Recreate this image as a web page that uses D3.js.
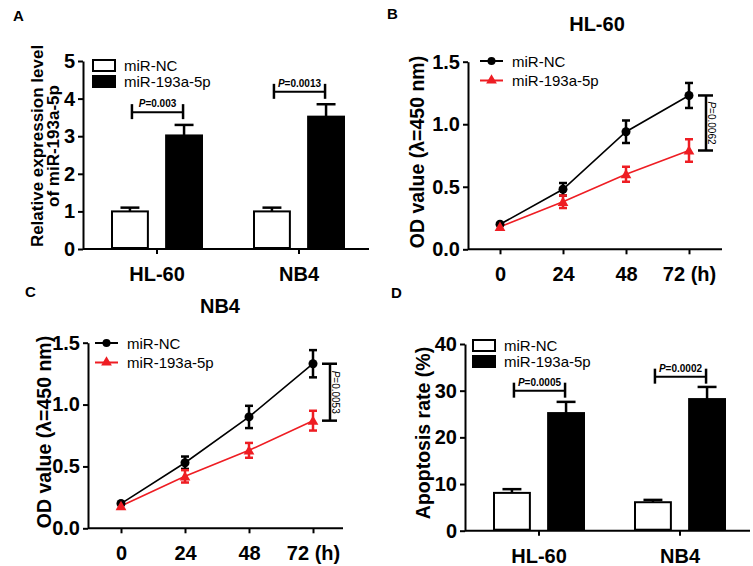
<!DOCTYPE html>
<html><head><meta charset="utf-8">
<script src="https://cdn.jsdelivr.net/npm/d3@7"></script>
<style>body{margin:0;background:#fff}svg{display:block;font-family:Arial,"Liberation Sans",sans-serif}</style>
</head><body><svg id="c" width="753" height="566"></svg>
<script>
// ---------- data ----------
const groups = ["miR-NC", "miR-193a-5p"];
const cellLines = ["HL-60", "NB4"];
// Panel A: relative expression
const exprNC = [1.0, 1.0], exprNCErr = [0.1, 0.1];
const exprMiR = [3.02, 3.52], exprMiRErr = [0.28, 0.33];
const exprP = ["0.003", "0.0013"], exprPLevel = [3.64, 4.18];
// Panel B/C: OD values
const hours = [0, 24, 48, 72];
const hourLabels = ["0", "24", "48", "72 (h)"];
const hlNC = [0.20, 0.48, 0.94, 1.23], hlNCErr = [0.01, 0.05, 0.09, 0.10];
const hlMiR = [0.18, 0.38, 0.60, 0.79], hlMiRErr = [0.01, 0.05, 0.06, 0.09];
const nbNC = [0.20, 0.53, 0.90, 1.33], nbNCErr = [0.01, 0.05, 0.09, 0.11];
const nbMiR = [0.18, 0.42, 0.63, 0.87], nbMiRErr = [0.01, 0.05, 0.06, 0.08];
const odP = ["0.0062", "0.0053"];
// Panel D: apoptosis
const apoNC = [8.1, 6.1], apoNCErr = [0.8, 0.5];
const apoMiR = [25.2, 28.2], apoMiRErr = [2.4, 2.6];
const apoP = ["0.0005", "0.0002"], apoPLevel = [30.0, 33.0];
const odTicks = [0, 0.5, 1.0, 1.5];
const exprTicks = [0, 1, 2, 3, 4, 5];
const apoTicks = [0, 10, 20, 30, 40];

const RED = "#ee1d23";
const svg = d3.select("#c");

function panelLabel(t, x, y) {
  svg.append("text").attr("x", x).attr("y", y).attr("font-size", 15).attr("font-weight", "bold").text(t);
}
function styleAxis(g, fs) {
  g.selectAll("path.domain").attr("stroke", "#000").attr("stroke-width", 2);
  g.selectAll(".tick line").attr("stroke", "#000").attr("stroke-width", 2);
  g.selectAll(".tick text").attr("font-size", fs).attr("font-weight", "bold").attr("fill", "#000")
    .attr("font-family", "Arial, 'Liberation Sans', sans-serif");
}
function pText(sel, p) {
  sel.append("tspan").attr("font-style", "italic").text("P");
  sel.append("tspan").text("=" + p);
}

// ---------- bar panel ----------
function barPanel(o) {
  const x0 = d3.scaleBand().domain(cellLines).range(o.xr).padding(0);
  const x1 = d3.scaleBand().domain(groups).range([-46, 46]).paddingInner(0.3);
  const y = d3.scaleLinear().domain(o.ydom).range(o.yr);
  const g = svg.append("g");
  const ya = g.append("g").attr("transform", `translate(${o.axisX},0)`)
    .call(d3.axisLeft(y).tickValues(o.ticks).tickFormat(d3.format("d")).tickSize(5).tickSizeOuter(0).tickPadding(3));
  styleAxis(ya, o.tickFs);
  const xa = g.append("g").attr("transform", `translate(0,${y(0)})`)
    .call(d3.axisBottom(x0).tickSize(5).tickSizeOuter(0).tickPadding(13));
  xa.select("path.domain").remove();
  styleAxis(xa, 20);
  g.append("line").attr("x1", o.axisX).attr("x2", o.xEnd).attr("y1", y(0)).attr("y2", y(0))
    .attr("stroke", "#000").attr("stroke-width", 2);
  const rows = [];
  cellLines.forEach((c, i) => {
    rows.push({c, grp: groups[0], v: o.nc[i], e: o.ncErr[i]});
    rows.push({c, grp: groups[1], v: o.mi[i], e: o.miErr[i]});
  });
  const cx = d => x0(d.c) + x0.bandwidth() / 2 + x1(d.grp) + x1.bandwidth() / 2;
  rows.forEach(d => {
    const half = x1.bandwidth() * 0.25;
    g.append("line").attr("x1", cx(d)).attr("x2", cx(d)).attr("y1", y(d.v)).attr("y2", y(d.v + d.e))
      .attr("stroke", "#000").attr("stroke-width", 2.5);
    g.append("line").attr("x1", cx(d) - half).attr("x2", cx(d) + half).attr("y1", y(d.v + d.e)).attr("y2", y(d.v + d.e))
      .attr("stroke", "#000").attr("stroke-width", 2.5);
  });
  g.selectAll("rect.bar").data(rows).join("rect").attr("class", "bar")
    .attr("x", d => cx(d) - x1.bandwidth() / 2 + 1).attr("width", x1.bandwidth() - 2)
    .attr("y", d => y(d.v)).attr("height", d => y(0) - y(d.v) - 1)
    .attr("fill", d => d.grp === groups[0] ? "#fff" : "#000")
    .attr("stroke", "#000").attr("stroke-width", 2);
  cellLines.forEach((c, i) => {
    const xl = cx({c, grp: groups[0]}) + 2, xr = cx({c, grp: groups[1]}) - 1;
    const L = y(o.pLevel[i]);
    g.append("line").attr("x1", xl).attr("x2", xr).attr("y1", L).attr("y2", L).attr("stroke", "#000").attr("stroke-width", 2);
    [xl, xr].forEach(xx => g.append("line").attr("x1", xx).attr("x2", xx).attr("y1", L - 8).attr("y2", L + 7)
      .attr("stroke", "#000").attr("stroke-width", 2.5));
    const t = g.append("text").attr("x", (xl + xr) / 2).attr("y", L - 5).attr("text-anchor", "middle")
      .attr("font-size", 10).attr("font-weight", "bold");
    pText(t, o.p[i]);
  });
  groups.forEach((gr, i) => {
    const ly = o.legY + i * 16;
    g.append("rect").attr("x", o.legX).attr("y", ly).attr("width", 22).attr("height", 11)
      .attr("fill", i === 0 ? "#fff" : "#000").attr("stroke", "#000").attr("stroke-width", 2);
    g.append("text").attr("x", o.legX + 31).attr("y", ly + 11).attr("font-size", 15).text(gr);
  });
  o.ylabel.forEach((line, k) => {
    g.append("text").attr("transform", `translate(${o.ylX + k * o.ylGap},${o.ylY}) rotate(-90)`)
      .attr("text-anchor", "middle").attr("dominant-baseline", "central")
      .attr("font-weight", "bold").attr("font-size", o.ylFs).text(line);
  });
}

// ---------- line panel ----------
function linePanel(o) {
  const x = d3.scaleLinear().domain([0, 72]).range(o.xr);
  const y = d3.scaleLinear().domain([0, 1.5]).range(o.yr);
  const g = svg.append("g");
  const ya = g.append("g").attr("transform", `translate(${o.axisX},0)`)
    .call(d3.axisLeft(y).tickValues(odTicks).tickFormat(d3.format(".1f")).tickSize(5).tickSizeOuter(0).tickPadding(3));
  styleAxis(ya, 20);
  const xa = g.append("g").attr("transform", `translate(0,${y(0)})`)
    .call(d3.axisBottom(x).tickValues(hours).tickFormat((d, i) => hourLabels[i]).tickSize(5).tickSizeOuter(0).tickPadding(13));
  xa.select("path.domain").remove();
  styleAxis(xa, 20);
  g.append("line").attr("x1", o.axisX).attr("x2", o.xEnd).attr("y1", y(0)).attr("y2", y(0))
    .attr("stroke", "#000").attr("stroke-width", 2);
  g.append("text").attr("x", o.titleX).attr("y", o.titleY).attr("text-anchor", "middle")
    .attr("font-size", 20).attr("font-weight", "bold").text(o.title);
  const series = [
    {vals: o.nc, err: o.ncErr, color: "#000", shape: "circle"},
    {vals: o.mi, err: o.miErr, color: RED, shape: "triangle"}
  ];
  const line = d3.line().x((d, i) => x(hours[i])).y(d => y(d));
  const tri = d3.symbol().type(d3.symbolTriangle).size(50);
  series.slice().reverse().forEach(s => {
    g.append("path").attr("d", line(s.vals)).attr("fill", "none").attr("stroke", s.color).attr("stroke-width", 1.6);
  });
  series.forEach(s => {
    s.vals.forEach((v, i) => {
      const xx = x(hours[i]);
      if (s.err[i] > 0.02) {
        g.append("line").attr("x1", xx).attr("x2", xx).attr("y1", y(v - s.err[i])).attr("y2", y(v + s.err[i]))
          .attr("stroke", s.color).attr("stroke-width", 2.5);
        [v - s.err[i], v + s.err[i]].forEach(e => g.append("line").attr("x1", xx - 4).attr("x2", xx + 4)
          .attr("y1", y(e)).attr("y2", y(e)).attr("stroke", s.color).attr("stroke-width", 2.5));
      }
      if (s.shape === "circle") g.append("circle").attr("cx", xx).attr("cy", y(v)).attr("r", 4.5).attr("fill", s.color);
      else g.append("path").attr("d", tri).attr("transform", `translate(${xx},${y(v) + 1})`).attr("fill", s.color);
    });
  });
  const bx = x(72) + 17;
  const yt = y(o.nc[3]), yb = y(o.mi[3]);
  g.append("line").attr("x1", bx).attr("x2", bx).attr("y1", yt).attr("y2", yb).attr("stroke", "#000").attr("stroke-width", 2.5);
  [yt, yb].forEach(yy => g.append("line").attr("x1", bx - 8).attr("x2", bx + 7).attr("y1", yy).attr("y2", yy)
    .attr("stroke", "#000").attr("stroke-width", 2.5));
  const pt = g.append("text").attr("transform", `translate(${bx + 6},${(yt + yb) / 2}) rotate(90)`)
    .attr("text-anchor", "middle").attr("dominant-baseline", "central").attr("font-size", 10);
  pText(pt, o.p);
  series.forEach((s, i) => {
    const ly = o.legY + i * 19.5;
    g.append("line").attr("x1", o.legX).attr("x2", o.legX + 23).attr("y1", ly).attr("y2", ly)
      .attr("stroke", s.color).attr("stroke-width", 2);
    if (s.shape === "circle") g.append("circle").attr("cx", o.legX + 11.5).attr("cy", ly).attr("r", 4).attr("fill", s.color);
    else g.append("path").attr("d", tri).attr("transform", `translate(${o.legX + 11.5},${ly})`).attr("fill", s.color);
    g.append("text").attr("x", o.legX + 32).attr("y", ly).attr("dominant-baseline", "central")
      .attr("font-size", 15).text(groups[i]);
  });
  g.append("text").attr("transform", `translate(${o.ylX},${o.ylY}) rotate(-90)`)
    .attr("text-anchor", "middle").attr("dominant-baseline", "central")
    .attr("font-weight", "bold").attr("font-size", 19.5).text("OD value (λ=450 nm)");
}

// ---------- panels ----------
panelLabel("A", 13, 21);
barPanel({xr: [86, 370], yr: [249, 61], ydom: [0, 5], ticks: exprTicks, axisX: 83, xEnd: 369, tickFs: 20,
  nc: exprNC, ncErr: exprNCErr, mi: exprMiR, miErr: exprMiRErr, p: exprP, pLevel: exprPLevel,
  legX: 93, legY: 60, ylX: 37, ylY: 146, ylFs: 17, ylGap: 16,
  ylabel: ["Relative expression level", "of miR-193a-5p"]});

panelLabel("B", 387, 19);
linePanel({xr: [500, 689], yr: [249.3, 61.7], axisX: 468, xEnd: 722, title: "HL-60", titleX: 597, titleY: 31,
  nc: hlNC, ncErr: hlNCErr, mi: hlMiR, miErr: hlMiRErr, p: odP[0], legX: 480, legY: 61, ylX: 417, ylY: 152});

panelLabel("C", 25, 297);
linePanel({xr: [121, 313], yr: [528.3, 342.7], axisX: 88, xEnd: 343, title: "NB4", titleX: 220, titleY: 313,
  nc: nbNC, ncErr: nbNCErr, mi: nbMiR, miErr: nbMiRErr, p: odP[1], legX: 95, legY: 343, ylX: 44, ylY: 432});

panelLabel("D", 391, 298);
barPanel({xr: [468.5, 750.5], yr: [530.7, 344], ydom: [0, 40], ticks: apoTicks, axisX: 465, xEnd: 750, tickFs: 20,
  nc: apoNC, ncErr: apoNCErr, mi: apoMiR, miErr: apoMiRErr, p: apoP, pLevel: apoPLevel,
  legX: 473, legY: 340, ylX: 423, ylY: 433, ylFs: 19.5, ylGap: 0,
  ylabel: ["Apoptosis rate (%)"]});
</script>
</body></html>
